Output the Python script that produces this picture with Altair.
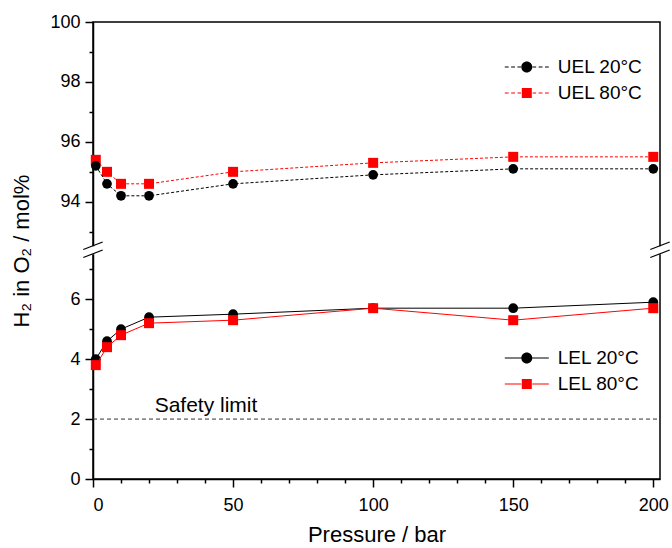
import altair as alt
import pandas as pd

# ---------------- data ----------------
pressure = [1, 5, 10, 20, 50, 100, 150, 200]
uel_20 = [95.2, 94.6, 94.2, 94.2, 94.6, 94.9, 95.1, 95.1]
uel_80 = [95.4, 95.0, 94.6, 94.6, 95.0, 95.3, 95.5, 95.5]
lel_20 = [4.0, 4.6, 5.0, 5.4, 5.5, 5.7, 5.7, 5.9]
lel_80 = [3.8, 4.4, 4.8, 5.2, 5.3, 5.7, 5.3, 5.7]

uel_labels = ["UEL 20°C", "UEL 80°C"]
lel_labels = ["LEL 20°C", "LEL 80°C"]
safety_value = 2
safety_label = "Safety limit"
x_tick_values = list(range(0, 201, 10))
y_tick_values = [0, 1, 2, 3, 4, 5, 6, 7, 93, 94, 95, 96, 97, 98, 99, 100]

# ---------------- layout ----------------
W, H = 567, 457
LOW_TOP, HIGH_BOTTOM = 7.65, 92.4
k = H / (LOW_TOP + 100 - HIGH_BOTTOM)
BREAK_PX = H - LOW_TOP * k
FONT = "Liberation Sans"

x_scale = alt.Scale(domain=[0, 202.4], nice=False, zero=False)
y_scale = alt.Scale(domain=[0, LOW_TOP, HIGH_BOTTOM, 100],
                    range=[H, BREAK_PX, BREAK_PX, 0], nice=False, zero=False)

def series_df(vals, name):
    return pd.DataFrame({"p": pressure, "v": vals, "series": name})

df_u20 = series_df(uel_20, uel_labels[0])
df_u80 = series_df(uel_80, uel_labels[1])
df_l20 = series_df(lel_20, lel_labels[0])
df_l80 = series_df(lel_80, lel_labels[1])

x_axis = alt.Axis(values=x_tick_values, title="Pressure / bar", format="d",
                  labelExpr="datum.value % 50 == 0 ? datum.label : ''",
                  tickSize={"condition": {"test": "datum.value % 50 == 0", "value": 8}, "value": 4},
                  labelPadding=9, titlePadding=10, titleFontSize=22)
y_axis = alt.Axis(values=y_tick_values, title="H₂ in O₂ / mol%", format="d",
                  labelExpr="datum.value % 2 == 0 ? datum.label : ''",
                  tickSize={"condition": {"test": "datum.value % 2 == 0", "value": 8}, "value": 4},
                  labelPadding=5, titlePadding=16, titleFontSize=22)

def xy():
    return dict(x=alt.X("p:Q", scale=x_scale, axis=x_axis),
                y=alt.Y("v:Q", scale=y_scale, axis=y_axis))

def series_layer(df, color, shape, size, dash):
    line_kw = dict(color=color, strokeWidth=1)
    if dash:
        line_kw["strokeDash"] = [3, 2]
    line = alt.Chart(df).mark_line(**line_kw).encode(**xy())
    pts = alt.Chart(df).mark_point(shape=shape, filled=True, size=size,
                                   color=color, opacity=1).encode(**xy())
    return [line, pts]

# legend symbol paths (unit = sqrt(size)/2 px)
def stub_rects(dashed):
    t = 0.09
    segs = []
    if dashed:
        spans = [(-4.0, -3.3), (-2.85, -2.15), (-1.7, -1.05)]
    else:
        spans = [(-4.0, -1.0)]
    for a, b in spans:
        segs.append((a, b))
        segs.append((-b, -a))
    return " ".join(f"M{a},{-t}H{b}V{t}H{a}Z" for a, b in segs)

circle = "M-1,0A1,1,0,1,1,1,0A1,1,0,1,1,-1,0Z"
square = "M-0.91,-0.91H0.91V0.91H-0.91Z"

def legend_layer(labels, dashed, lx, ly):
    df = pd.DataFrame({"series": labels, "p": [0, 0], "v": [0, 0]})
    leg = alt.Legend(title=None, orient="none", legendX=lx, legendY=ly,
                     symbolSize=121, symbolStrokeWidth=0, labelOffset=21.5,
                     labelFont=FONT, labelFontSize=19, labelColor="black",
                     padding=0, rowPadding=6)
    return alt.Chart(df).mark_point(filled=True, opacity=1).encode(
        color=alt.Color("series:N", scale=alt.Scale(domain=labels, range=["black", "red"]), legend=leg),
        shape=alt.Shape("series:N", scale=alt.Scale(domain=labels,
                        range=[stub_rects(dashed) + " " + circle, stub_rects(dashed) + " " + square]),
                        legend=leg),
    ).transform_filter("false")

layers = []
layers += series_layer(df_u80, "red", "square", 100, True)
layers += series_layer(df_u20, "black", "circle", 95, True)
layers += series_layer(df_l20, "black", "circle", 95, False)
layers += series_layer(df_l80, "red", "square", 100, False)

safety_df = pd.DataFrame({"v": [safety_value], "p0": [0], "p1": [202.4], "px": [22], "txt": [safety_label]})
safety_rule = alt.Chart(safety_df).mark_rule(color="#333333", strokeWidth=1, strokeDash=[4, 3]).encode(
    x=alt.X("p0:Q", scale=x_scale, axis=x_axis), x2="p1:Q",
    y=alt.Y("v:Q", scale=y_scale, axis=y_axis))
safety_text = alt.Chart(safety_df).mark_text(align="left", baseline="alphabetic", dy=-7,
                                             font=FONT, fontSize=21, color="black").encode(
    x=alt.X("px:Q", scale=x_scale, axis=x_axis), y=alt.Y("v:Q", scale=y_scale, axis=y_axis), text="txt:N")

# axis-break decorations
def break_marks(xc):
    gap = alt.Chart(pd.DataFrame({"a": [0]})).mark_rule(color="white", strokeWidth=5).encode(
        x=alt.value(xc), y=alt.value(BREAK_PX - 3.5), y2=alt.value(BREAK_PX + 4.5))
    s1 = alt.Chart(pd.DataFrame({"a": [0]})).mark_rule(color="black", strokeWidth=1.2).encode(
        x=alt.value(xc - 9.7), x2=alt.value(xc + 9.7),
        y=alt.value(BREAK_PX - 0.2), y2=alt.value(BREAK_PX - 7.8))
    s2 = alt.Chart(pd.DataFrame({"a": [0]})).mark_rule(color="black", strokeWidth=1.2).encode(
        x=alt.value(xc - 9.7), x2=alt.value(xc + 9.7),
        y=alt.value(BREAK_PX + 7.8), y2=alt.value(BREAK_PX + 0.2))
    return [gap, s1, s2]

layers += [safety_rule, safety_text]
layers += break_marks(0) + break_marks(W)
layers += [legend_layer(uel_labels, True, 424.3, 35.5),
           legend_layer(lel_labels, False, 424.3, 326.5)]

chart = alt.layer(*layers).resolve_scale(color="independent", shape="independent").properties(
    width=W, height=H,
    background="white",
    autosize=alt.AutoSizeParams(type="none"),
    padding={"left": 93, "top": 22, "right": 12, "bottom": 69},
).configure_view(stroke="black", strokeWidth=1.5).configure_axis(
    labelFont=FONT, labelFontSize=18, labelColor="black",
    titleFont=FONT, titleFontSize=21, titleFontWeight="normal", titleColor="black",
    domainColor="black", domainWidth=1.5, tickColor="black", tickWidth=1.5, grid=False,
)

chart.save("out.html", embed_options={"renderer": "svg", "actions": False})
